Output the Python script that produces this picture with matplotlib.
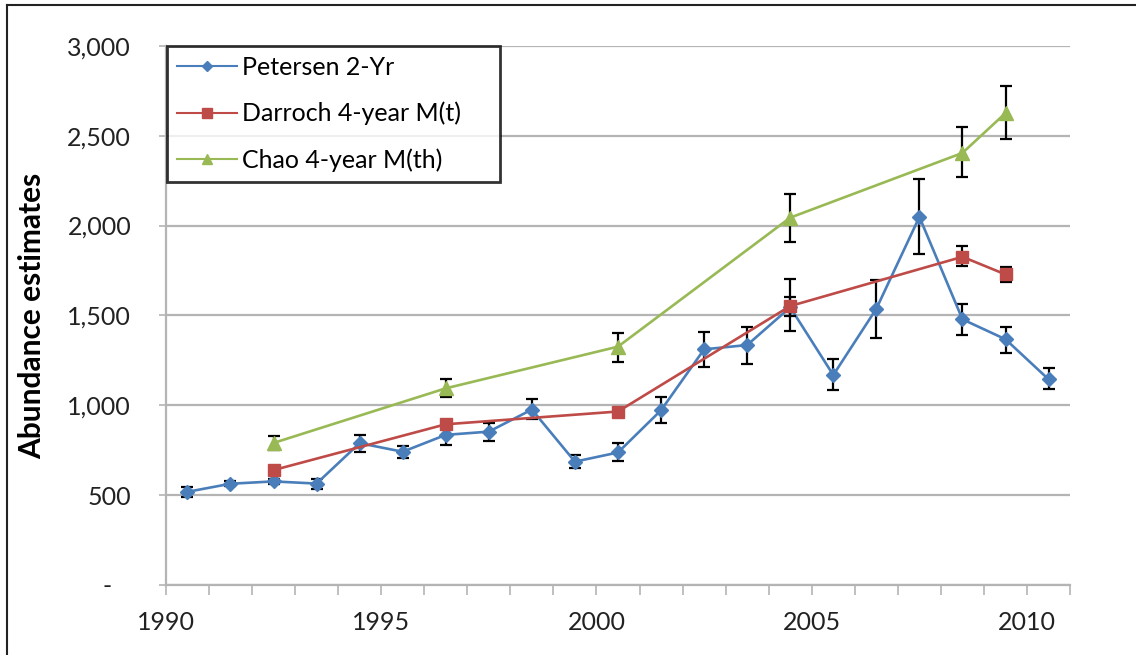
import matplotlib
matplotlib.use('Agg')
import matplotlib.pyplot as plt
from matplotlib.ticker import MultipleLocator, FuncFormatter
from matplotlib.lines import Line2D

plt.rcParams['font.family'] = ['Lato', 'DejaVu Sans']

# Petersen 2-year estimates (mid-year points)
pet_years = [1990.5, 1991.5, 1992.5, 1993.5, 1994.5, 1995.5, 1996.5, 1997.5, 1998.5, 1999.5,
             2000.5, 2001.5, 2002.5, 2003.5, 2004.5, 2005.5, 2006.5, 2007.5, 2008.5, 2009.5, 2010.5]
pet_est = [518, 563, 576, 564, 789, 741, 835, 853, 976, 686,
           737, 972, 1311, 1335, 1545, 1168, 1537, 2048, 1478, 1367, 1144]
pet_upper = [545, 578, 590, 591, 835, 774, 890, 900, 1033, 724,
             792, 1044, 1407, 1437, 1702, 1256, 1696, 2257, 1561, 1437, 1205]
pet_lower = [490, 550, 562, 535, 737, 706, 780, 803, 922, 650,
             690, 900, 1211, 1229, 1415, 1085, 1372, 1840, 1390, 1292, 1089]

# Darroch 4-year M(t)
dar_years = [1992.5, 1996.5, 2000.5, 2004.5, 2008.5, 2009.5]
dar_est = [639, 894, 965, 1552, 1826, 1728]
dar_upper = [650, 905, 975, 1603, 1885, 1770]
dar_lower = [628, 883, 955, 1495, 1774, 1687]

# Chao 4-year M(th)
chao_years = [1992.5, 1996.5, 2000.5, 2004.5, 2008.5, 2009.5]
chao_est = [790, 1094, 1326, 2044, 2404, 2626]
chao_upper = [830, 1148, 1400, 2178, 2548, 2776]
chao_lower = [750, 1044, 1242, 1909, 2270, 2479]

series = [
    ('Petersen 2-Yr', pet_years, pet_est, pet_upper, pet_lower, '#4A7EBB', 'D', 7),
    ('Darroch 4-year M(t)', dar_years, dar_est, dar_upper, dar_lower, '#BE4B48', 's', 9),
    ('Chao 4-year M(th)', chao_years, chao_est, chao_upper, chao_lower, '#98B954', '^', 9.5),
]

fig = plt.figure(figsize=(11.36, 6.55), dpi=100)
ax = fig.add_axes([0.146, 0.107, 0.796, 0.823])

handles = []
for i, (name, xs, ys, up, lo, col, mk, ms) in enumerate(series):
    err = [[y - l for y, l in zip(ys, lo)], [u - y for y, u in zip(ys, up)]]
    ax.errorbar(xs, ys, yerr=err, fmt='none', ecolor='black', elinewidth=1.6,
                capsize=4.5, capthick=1.6, zorder=3 + i * 2)
    ax.plot(xs, ys, color=col, lw=1.9, marker=mk, ms=ms, mfc=col, mec=col, zorder=4 + i * 2)
    handles.append(Line2D([], [], color=col, lw=1.5, marker=mk, ms=ms * 0.75,
                          mfc=col, mec=col, label=name))

ax.set_xlim(1990, 2011)
ax.set_ylim(0, 3000)
ax.xaxis.set_major_locator(MultipleLocator(5))
ax.xaxis.set_minor_locator(MultipleLocator(1))
ax.yaxis.set_major_locator(MultipleLocator(500))
ax.yaxis.set_major_formatter(FuncFormatter(lambda v, p: '-   ' if v == 0 else f'{v:,.0f}'))

ax.grid(axis='y', color='#B4B4B4', lw=1.6, zorder=1)
ax.set_axisbelow(True)
for s in ['top', 'right']:
    ax.spines[s].set_visible(False)
for s in ['left', 'bottom']:
    ax.spines[s].set_color('#B4B4B4')
    ax.spines[s].set_linewidth(1.6)

ax.tick_params(axis='y', which='both', length=5, width=1.2, color='#B4B4B4',
               labelsize=18, labelcolor='#222222', pad=20)
ax.tick_params(axis='x', which='both', length=7, width=1.2, color='#B4B4B4',
               labelsize=18, labelcolor='#222222', pad=12)

ax.set_ylabel('Abundance estimates', fontsize=21.5, fontweight='bold')
ax.yaxis.set_label_coords(-0.132, 0.5)

# legend box roughly 333 px wide in the top-left corner of the plot area
leg_w = 333 / 904
leg_h = 135 / 539
leg = ax.legend(handles=handles, loc='upper left',
                bbox_to_anchor=(0.001, 1.0 - leg_h, leg_w, leg_h), mode='expand',
                borderaxespad=0, fontsize=18, frameon=True, fancybox=False,
                edgecolor='black', handlelength=2.4, handletextpad=0.2,
                labelspacing=0.92, borderpad=0.4, numpoints=1)
leg.get_frame().set_linewidth(2.0)
leg.set_zorder(10)

# outer chart border (top and left visible)
fig.add_artist(Line2D([0.006, 1.0], [0.992, 0.992], color='#222222', lw=1.5,
                      transform=fig.transFigure))
fig.add_artist(Line2D([0.006, 0.006], [0.0, 0.992], color='#222222', lw=1.5,
                      transform=fig.transFigure))

fig.savefig('out.png', dpi=100)
